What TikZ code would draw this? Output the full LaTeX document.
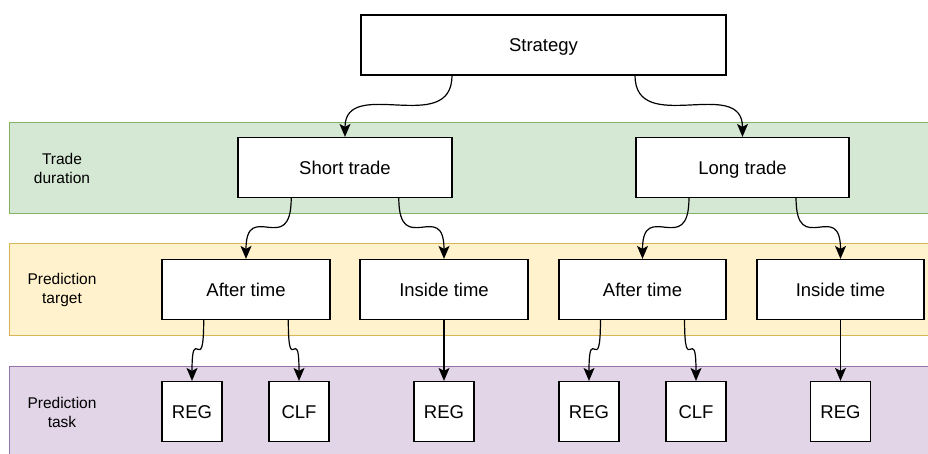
\documentclass[tikz,border=0pt]{standalone}
\usepackage{fontspec}
\setmainfont{Liberation Sans}
\usetikzlibrary{calc,arrows.meta}

\definecolor{durfill}{HTML}{D5E8D4}
\definecolor{durline}{HTML}{82B366}
\definecolor{tgtfill}{HTML}{FFF2CC}
\definecolor{tgtline}{HTML}{D6B656}
\definecolor{taskfill}{HTML}{E1D5E7}
\definecolor{taskline}{HTML}{9673A6}

\begin{document}
\begin{tikzpicture}[x=1pt, y=-1pt,
    every node/.append style={font=\fontsize{18.5}{22}\selectfont},
    curve/.style={to path={.. controls (\tikztostart |- \tikztotarget) and (\tikztotarget |- \tikztostart) .. (\tikztotarget)}}]
  \tikzstyle{band} = [line width=1pt]
  \tikzstyle{box} = [draw, line width=1.2pt, fill=white, minimum height=60pt, inner sep=0pt, text height=13pt, text depth=0pt]
  \tikzstyle{rowlabel} = [align=center, font=\fontsize{15.5}{19}\selectfont]
  \tikzstyle{link} = [line width=1.2pt, -{Stealth[length=13pt,width=11pt,inset=3pt]}]
  \useasboundingbox (0,0) rectangle (928,453);
  \clip (0,0) rectangle (928,453);
  % bands
  \draw[band, draw=durline, fill=durfill] (9,122) rectangle (945,213);
  \draw[band, draw=tgtline, fill=tgtfill] (9,243) rectangle (945,335);
  \draw[band, draw=taskline, fill=taskfill] (9,366) rectangle (945,470);
  \node (durlabel) [rowlabel] at (62,168) {Trade\\duration};
  \node (tgtlabel) [rowlabel] at (62,290) {Prediction\\target};
  \node (tasklabel) [rowlabel] at (62,412) {Prediction\\task};
  % boxes
  \node (strategy) [box, minimum width=365pt] at (543.5,45) {Strategy};
  \node (short) [box, minimum width=214pt] at (345,167.5) {Short trade};
  \node (long) [box, minimum width=213pt] at (742.5,167.5) {Long trade};
  \node (after1) [box, minimum width=168pt] at (246,289.5) {After time};
  \node (inside1) [box, minimum width=168pt] at (444,289.5) {Inside time};
  \node (after2) [box, minimum width=167pt] at (642.5,289.5) {After time};
  \node (inside2) [box, minimum width=167pt] at (840.5,289.5) {Inside time};
  \node (reg1) [box, minimum width=60pt] at (192,411.5) {REG};
  \node (clf1) [box, minimum width=60pt] at (299,411.5) {CLF};
  \node (reg2) [box, minimum width=60pt] at (444,411.5) {REG};
  \node (reg3) [box, minimum width=60pt] at (589,411.5) {REG};
  \node (clf2) [box, minimum width=60pt] at (696,411.5) {CLF};
  \node (reg4) [box, minimum width=60pt] at (840.5,411.5) {REG};
  % edges
  \foreach \n in {strategy,short,long,after1,after2}{
    \coordinate (\n-l) at ($(\n.south west)!.25!(\n.south east)$);
    \coordinate (\n-r) at ($(\n.south west)!.75!(\n.south east)$);
  }
  \draw[link] (strategy-l) to[curve] (short.north);
  \draw[link] (strategy-r) to[curve] (long.north);
  \draw[link] (short-l) to[curve] (after1.north);
  \draw[link] (short-r) to[curve] (inside1.north);
  \draw[link] (long-l) to[curve] (after2.north);
  \draw[link] (long-r) to[curve] (inside2.north);
  \draw[link] (after1-l) to[curve] (reg1.north);
  \draw[link] (after1-r) to[curve] (clf1.north);
  \draw[link] (inside1.south) -- (reg2.north);
  \draw[link] (after2-l) to[curve] (reg3.north);
  \draw[link] (after2-r) to[curve] (clf2.north);
  \draw[link] (inside2.south) -- (reg4.north);
\end{tikzpicture}
\end{document}
